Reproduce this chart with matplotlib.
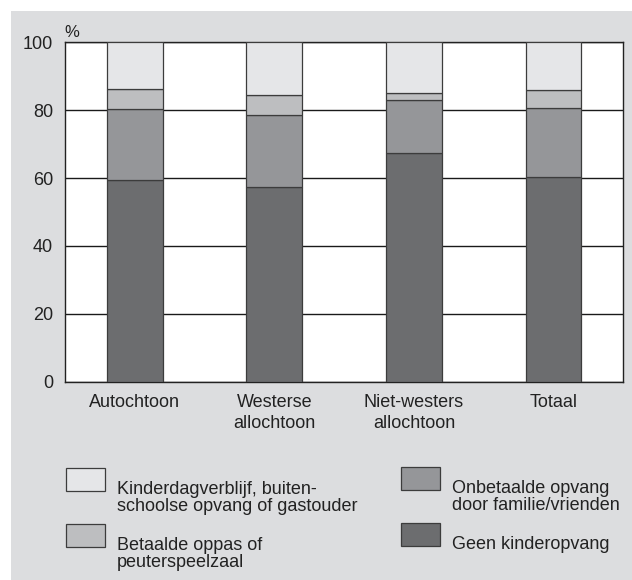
import matplotlib.pyplot as plt
import numpy as np
from matplotlib.patches import Rectangle

plt.rcParams['font.family'] = ['Liberation Sans', 'DejaVu Sans']

# Data (percentages)
groups = ['Autochtoon', 'Westerse\nallochtoon', 'Niet-westers\nallochtoon', 'Totaal']
geen = [59.3, 57.4, 67.4, 60.2]
onbetaald = [21.1, 21.1, 15.7, 20.5]
betaald = [5.9, 6.0, 2.0, 5.3]
kdv = [13.7, 15.5, 14.9, 14.0]

series = [geen, onbetaald, betaald, kdv]
series_labels = ['Geen kinderopvang',
                 'Onbetaalde opvang\ndoor familie/vrienden',
                 'Betaalde oppas of\npeuterspeelzaal',
                 'Kinderdagverblijf, buiten-\nschoolse opvang of gastouder']
colors = ['#6c6d6f', '#959699', '#bdbec0', '#e5e6e8']
bg = '#dcdddf'

W, H = 632, 580
fig = plt.figure(figsize=(W / 100, H / 100), dpi=100, facecolor='white')
fig.add_artist(Rectangle((11 / W, 0), 1 - 11 / W, 1 - 11 / H,
                         transform=fig.transFigure, facecolor=bg,
                         edgecolor='none', zorder=-10))

ax = fig.add_axes([65 / W, 1 - 381.7 / H, (623.3 - 65) / W, (381.7 - 42.3) / H])
ax.set_facecolor('white')

x = np.arange(len(groups))
bottom = np.zeros(len(groups))
for vals, c in zip(series, colors):
    ax.bar(x, vals, width=0.4, bottom=bottom, color=c,
           edgecolor='#3c3c3c', linewidth=0.9, zorder=3)
    bottom += np.array(vals)

ax.set_xlim(-0.5, 3.5)
ax.set_ylim(0, 100)
ax.set_yticks(range(0, 101, 20))
ax.yaxis.grid(True, color='#1a1a1a', linewidth=1.0, zorder=0)
ax.set_axisbelow(True)
ax.set_xticks(x)
ax.set_xticklabels(groups, fontsize=13, color='#222222', linespacing=1.3)
ax.tick_params(axis='y', labelsize=13, labelcolor='#222222', length=0, pad=8.5)
ax.tick_params(axis='x', length=0, pad=9)
for s in ax.spines.values():
    s.set_color('#222222')
    s.set_linewidth(1.0)

fig.text(64 / W, 1 - 37 / H, '%', fontsize=12, color='#222222', va='baseline')

# Legend, two columns
legend_pos = [(401, 523), (401, 467), (66, 524), (66, 468)]
for lab, c, (px, py) in zip(series_labels, colors, legend_pos):
    fig.add_artist(Rectangle((px / W, 1 - (py + 23) / H), 39 / W, 23 / H,
                             transform=fig.transFigure, facecolor=c,
                             edgecolor='#3c3c3c', linewidth=0.9))
    fig.text((px + 51) / W, 1 - (py + 13) / H, lab, fontsize=13,
             color='#222222', va='top', ha='left', linespacing=1.0)

fig.savefig('out.png', dpi=100, facecolor='white')
